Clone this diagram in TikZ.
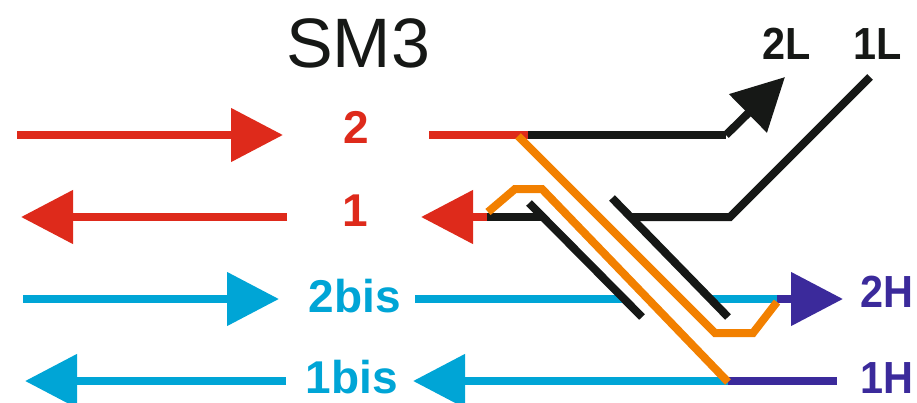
\documentclass[tikz,border=0pt]{standalone}
\usepackage{fontspec}
\setmainfont{Liberation Sans}
\usetikzlibrary{arrows.meta}

\definecolor{redline}{HTML}{DE2A1B}
\definecolor{blueline}{HTML}{00A5D6}
\definecolor{violetline}{HTML}{3B2A9B}
\definecolor{orangeline}{HTML}{F28000}
\definecolor{blackline}{HTML}{161816}

\begin{document}
\begin{tikzpicture}[x=1pt,y=-1pt]
\tikzstyle{wire}=[line width=8pt]
\tikzstyle{head}=[-{Triangle[length=52pt,width=52pt]}]
\tikzstyle{lab}=[inner sep=0pt, anchor=base, font=\bfseries\fontsize{46}{54}\selectfont]
\tikzstyle{endlab}=[inner sep=0pt, anchor=base, xscale=0.92, transform shape, font=\bfseries\fontsize{45}{54}\selectfont]
\useasboundingbox (0,0) rectangle (917,402);

  % labels
  \node[inner sep=0pt, anchor=base, text=blackline, font=\fontsize{70}{80}\selectfont] (title) at (358,67) {SM3};
  \node[lab, text=redline] (two) at (356,143) {2};
  \node[lab, text=redline] (one) at (355,226) {1};
  \node[lab, text=blueline] (twobis) at (355,312) {2bis};
  \node[lab, text=blueline] (onebis) at (352,393) {1bis};
  \node[endlab, text=blackline] (twoL) at (787,59) {2L};
  \node[endlab, text=blackline] (oneL) at (878,59) {1L};
  \node[endlab, text=violetline] (twoH) at (887,307) {2H};
  \node[endlab, text=violetline] (oneH) at (887,393) {1H};

  % end points on the left
  \coordinate (a2) at (17,135);
  \coordinate (b2) at (283,135);
  \coordinate (a1) at (287,217);
  \coordinate (b1) at (21,217);
  \coordinate (a2b) at (23,299);
  \coordinate (b2b) at (279,299);
  \coordinate (a1b) at (286,381);
  \coordinate (b1b) at (25,381);

  % end points on the right
  \coordinate (in2) at (429,135);
  \coordinate (sw2) at (528,135);
  \coordinate (bend2) at (726,135);
  \coordinate (out2) at (785,77);
  \coordinate (out1) at (421,217);
  \coordinate (sw1) at (487,217);
  \coordinate (end1) at (542,217);
  \coordinate (start1L) at (632,217);
  \coordinate (bend1L) at (730,217);
  \coordinate (out1L) at (870,77);
  \coordinate (in2b) at (415,299);
  \coordinate (stop2b) at (622,299);
  \coordinate (go2b) at (712,299);
  \coordinate (sw2b) at (777,299);
  \coordinate (out2H) at (843,299);
  \coordinate (out1b) at (413,381);
  \coordinate (sw1b) at (728,381);
  \coordinate (in1H) at (837,381);

  % contacts
  \coordinate (ca) at (529,203);
  \coordinate (cb) at (642,317);
  \coordinate (cc) at (612,198);
  \coordinate (cd) at (728,317);

  % lines and arrows
  \path (a2) edge [wire, head, redline] (b2)
        (a1) edge [wire, head, redline] (b1)
        (a2b) edge [wire, head, blueline] (b2b)
        (a1b) edge [wire, head, blueline] (b1b)
        (in2) edge [wire, redline] (sw2)
        (sw2) edge [wire, blackline] (bend2)
        (sw1) edge [wire, head, redline] (out1)
        (sw1) edge [wire, blackline] (end1)
        (in2b) edge [wire, blueline] (stop2b)
        (go2b) edge [wire, blueline] (sw2b)
        (sw2b) edge [wire, head, violetline] (out2H)
        (sw1b) edge [wire, head, blueline] (out1b)
        (sw1b) edge [wire, violetline] (in1H)
        (bend2) edge [wire, head, blackline] (out2)
        (ca) edge [wire, blackline] (cb)
        (cc) edge [wire, blackline] (cd);
  \draw[wire, blackline] (start1L) -- (bend1L) -- (out1L);

  % orange paths
  \coordinate (o1) at (518,136);
  \coordinate (o2) at (715,333);
  \coordinate (o3) at (753,333);
  \coordinate (o4) at (777,302);
  \coordinate (p1) at (488,212);
  \coordinate (p2) at (515,189);
  \coordinate (p3) at (542,189);
  \coordinate (p4) at (728,382);
  \draw[wire, orangeline] (o1) -- (o2) -- (o3) -- (o4);
  \draw[wire, orangeline] (p1) -- (p2) -- (p3) -- (p4);

\end{tikzpicture}
\end{document}
